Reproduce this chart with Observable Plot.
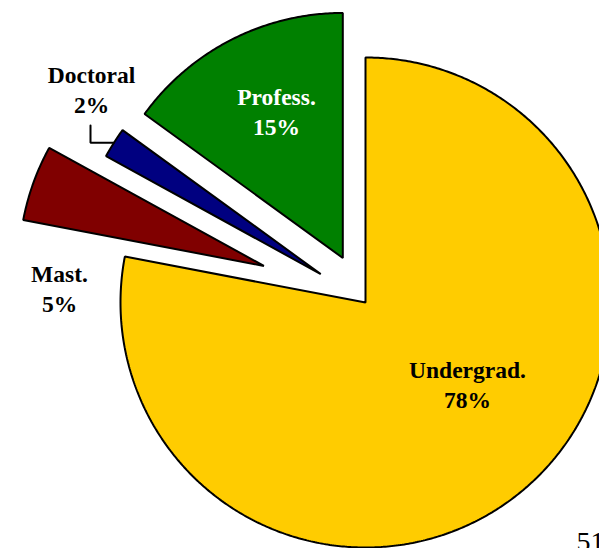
<!DOCTYPE html>
<html>
<head>
<meta charset="utf-8">
<script src="https://cdn.jsdelivr.net/npm/d3@7"></script>
<script src="https://cdn.jsdelivr.net/npm/@observablehq/plot@0.6"></script>
<style>
  html, body { margin: 0; padding: 0; background: #fff; overflow: hidden; }
  svg { display: block; overflow: hidden; }
</style>
</head>
<body>
<div id="chart"></div>
<script>
// ---- data ----
const categories = ["Undergrad.", "Mast.", "Doctoral", "Profess."];
const shares = [78, 5, 2, 15];
const shareLabels = ["78%", "5%", "2%", "15%"];
const pageNumber = ["51"];

// ---- layout / styles (not data) ----
const palette = ["#FFCC00", "#800000", "#000080", "#008000"];
const R = 245;                       // pie radius (pixels)
const CX = 365, CY = 302;            // pie centre in pixel space
const explode = {"Undergrad.": 0, "Mast.": 108, "Doctoral": 53, "Profess.": 50};
// label anchor: [centre x, baseline of first line] in pixels
const labelAt = {"Undergrad.": [467, 377], "Mast.": [59, 281], "Doctoral": [91, 82], "Profess.": [276, 104]};
const labelFill = {"Undergrad.": "black", "Mast.": "black", "Doctoral": "black", "Profess.": "white"};
const FS = 23.5, LINE = 30;
const SERIF = "'Liberation Serif', 'Times New Roman', Times, 'DejaVu Serif', serif";

const rows = categories.map((c, i) => ({category: c, share: shares[i], label: shareLabels[i]}));
const arcs = d3.pie().sort(null).value(d => d.share).startAngle(0).endAngle(2 * Math.PI)(rows);

// data coords: x right, y up, origin at pie centre
const px = x => x - CX;
const py = y => CY - y;

const polys = [];
const info = {};
for (const a of arcs) {
  const c = a.data.category;
  const mid = (a.startAngle + a.endAngle) / 2;
  const ox = explode[c] * Math.sin(mid), oy = explode[c] * Math.cos(mid);
  polys.push({category: c, x: ox, y: oy});
  const n = Math.max(4, Math.ceil((a.endAngle - a.startAngle) / (Math.PI / 360)));
  for (let k = 0; k <= n; k++) {
    const t = a.startAngle + (a.endAngle - a.startAngle) * k / n;
    polys.push({category: c, x: ox + R * Math.sin(t), y: oy + R * Math.cos(t)});
  }
  info[c] = {ox, oy, mid};
}

const names = rows.map(r => ({text: r.category, category: r.category, x: px(labelAt[r.category][0]), y: py(labelAt[r.category][1] - 0.32 * FS)}));
const pcts = rows.map(r => ({text: r.label, category: r.category, x: px(labelAt[r.category][0]), y: py(labelAt[r.category][1] + LINE - 0.32 * FS)}));

// leader line for Doctoral: from under its label to the middle of its outer arc
const d = info["Doctoral"];
const endX = d.ox + R * Math.sin(d.mid), endY = d.oy + R * Math.cos(d.mid);
const startX = px(labelAt["Doctoral"][0] - 1), startY = py(labelAt["Doctoral"][1] + LINE + 13);
const leader = [{x: startX, y: startY}, {x: startX, y: endY}, {x: endX, y: endY}];

const plot = Plot.plot({
  width: 599,
  height: 548,
  margin: 0,
  x: {domain: [px(0), px(599)], range: [0, 599], axis: null},
  y: {domain: [py(548), py(0)], range: [548, 0], axis: null},
  color: {domain: categories, range: palette},
  marks: [
    Plot.line(polys, {x: "x", y: "y", z: "category", fill: "category", stroke: "black", strokeWidth: 2, curve: "linear-closed", strokeLinejoin: "miter"}),
    Plot.line(leader, {x: "x", y: "y", stroke: "black", strokeWidth: 2, strokeLinejoin: "miter"}),
    Plot.text(names, {x: "x", y: "y", text: "text", fill: d => labelFill[d.category], fontSize: FS, fontWeight: "bold", fontFamily: SERIF, textAnchor: "middle"}),
    Plot.text(pcts, {x: "x", y: "y", text: "text", fill: d => labelFill[d.category], fontSize: FS, fontWeight: "bold", fontFamily: SERIF, textAnchor: "middle"}),
    Plot.text(pageNumber, {x: px(576), y: py(550 - 0.32 * 28), text: d => d, fontSize: 28, fontFamily: SERIF, textAnchor: "start", fill: "black"})
  ]
});
document.getElementById("chart").appendChild(plot);
</script>
</body>
</html>
